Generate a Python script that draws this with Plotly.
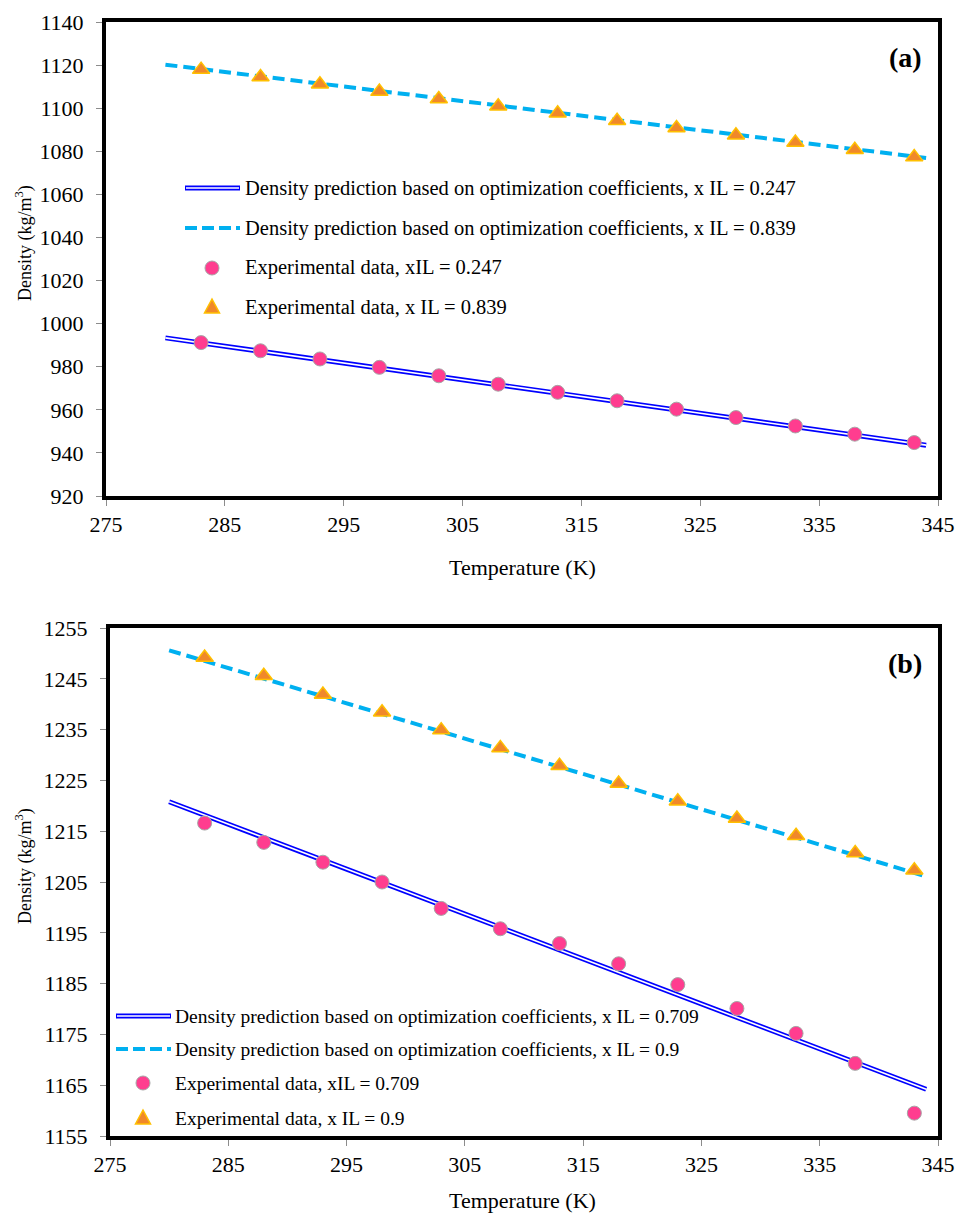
import plotly.graph_objects as go

# Experimental temperatures (K)
T_exp = [283, 288, 293, 298, 303, 308, 313, 318, 323, 328, 333, 338, 343]
# Temperature span of the fitted density lines (K)
T_fit = [280, 344]

# Panel (a): x IL = 0.247 and 0.839
rho_a_247 = [991.2, 987.4, 983.6, 979.7, 975.8, 971.9, 968.1, 964.2, 960.3, 956.4, 952.5, 948.7, 944.8]
rho_a_839 = [1117.9, 1114.5, 1111.1, 1107.7, 1104.3, 1100.9, 1097.6, 1094.2, 1090.8, 1087.4, 1084.1, 1080.7, 1077.3]
fit_a_247 = [993.4, 943.6]
fit_a_839 = [1120.2, 1076.9]

# Panel (b): x IL = 0.709 and 0.9
rho_b_709 = [1216.6, 1212.8, 1208.9, 1205.0, 1199.8, 1195.8, 1192.9, 1188.9, 1184.8, 1180.1, 1175.2, 1169.3, 1159.5]
rho_b_900 = [1249.2, 1245.6, 1241.9, 1238.4, 1234.9, 1231.4, 1227.9, 1224.4, 1220.9, 1217.5, 1214.1, 1210.7, 1207.3]
fit_b_709 = [1220.8, 1164.2]
fit_b_900 = [1250.6, 1206.1]

legend_a = [
    "Density prediction based on optimization coefficients, x IL = 0.247",
    "Density prediction based on optimization coefficients, x IL = 0.839",
    "Experimental data, xIL = 0.247",
    "Experimental data, x IL = 0.839",
]
legend_b = [
    "Density prediction based on optimization coefficients, x IL = 0.709",
    "Density prediction based on optimization coefficients, x IL = 0.9",
    "Experimental data, xIL = 0.709",
    "Experimental data, x IL = 0.9",
]

W, H = 955, 1215
FONT = "Liberation Serif"
BLUE = "#0000FF"
CYAN = "#00B0F0"
PINK = "#FF3D8F"
PINK_EDGE = "#A6A6A6"
ORANGE = "#F0882A"
ORANGE_EDGE = "#FFC000"

circle_marker = dict(symbol="circle", size=14, color=PINK, line=dict(color=PINK_EDGE, width=1))
tri_marker = dict(symbol="triangle-up", size=15, color=ORANGE, line=dict(color=ORANGE_EDGE, width=1.5))


def px_x(p):
    return p / W


def px_y(p):
    return 1 - p / H


fig = go.Figure()


def add_panel(xa, ya, fit_solid, fit_dash, pts_circle, pts_tri):
    fig.add_trace(go.Scatter(x=T_fit, y=fit_dash, mode="lines", xaxis=xa, yaxis=ya,
                             line=dict(color=CYAN, width=4, dash="12px,6px"), showlegend=False))
    fig.add_trace(go.Scatter(x=T_fit, y=fit_solid, mode="lines", xaxis=xa, yaxis=ya,
                             line=dict(color=BLUE, width=5), showlegend=False))
    fig.add_trace(go.Scatter(x=T_fit, y=fit_solid, mode="lines", xaxis=xa, yaxis=ya,
                             line=dict(color="white", width=1.6), showlegend=False))
    fig.add_trace(go.Scatter(x=T_exp, y=pts_tri, mode="markers", xaxis=xa, yaxis=ya,
                             marker=tri_marker, showlegend=False))
    fig.add_trace(go.Scatter(x=T_exp, y=pts_circle, mode="markers", xaxis=xa, yaxis=ya,
                             marker=circle_marker, showlegend=False))


add_panel("x", "y", fit_a_247, fit_a_839, rho_a_247, rho_a_839)
add_panel("x2", "y2", fit_b_709, fit_b_900, rho_b_709, rho_b_900)

tick_font = dict(family=FONT, size=22, color="black")
axis_common = dict(
    showgrid=False, zeroline=False, showline=True, linecolor="black", linewidth=4,
    mirror=True, ticks="outside", ticklen=6, tickwidth=1, tickcolor="#8C8C8C",
    tickfont=tick_font, automargin=False,
)

fig.update_layout(
    width=W, height=H,
    margin=dict(l=0, r=0, t=0, b=0, autoexpand=False),
    paper_bgcolor="white", plot_bgcolor="white",
    showlegend=False,
    font=dict(family=FONT, color="black"),
    xaxis=dict(domain=[px_x(106), px_x(938)], range=[275, 345], tick0=275, dtick=10,
               anchor="y", ticklabelstandoff=0, **axis_common),
    yaxis=dict(domain=[px_y(496), px_y(22)], range=[920, 1140], tick0=920, dtick=20,
               anchor="x", ticklabelstandoff=8, **axis_common),
    xaxis2=dict(domain=[px_x(110), px_x(938)], range=[275, 345], tick0=275, dtick=10,
                anchor="y2", ticklabelstandoff=0, **axis_common),
    yaxis2=dict(domain=[px_y(1136), px_y(628)], range=[1155, 1255], tick0=1155, dtick=10,
                anchor="x2", ticklabelstandoff=8, **axis_common),
)

annotations = []
shapes = []


def text_at(x, y, text, size, xanchor="left", bold=False, angle=0):
    annotations.append(dict(
        xref="paper", yref="paper", x=px_x(x), y=px_y(y), text=("<b>%s</b>" % text) if bold else text,
        showarrow=False, xanchor=xanchor, yanchor="middle", textangle=angle,
        font=dict(family=FONT, size=size, color="black"),
    ))


def legend_block(x_line0, x_line1, x_mark, x_text, rows, labels, size):
    # double blue line swatch
    y0 = px_y(rows[0])
    shapes.append(dict(type="line", xref="paper", yref="paper", x0=px_x(x_line0), x1=px_x(x_line1),
                       y0=y0, y1=y0, line=dict(color=BLUE, width=5)))
    shapes.append(dict(type="line", xref="paper", yref="paper", x0=px_x(x_line0 + 1), x1=px_x(x_line1 - 1),
                       y0=y0, y1=y0, line=dict(color="white", width=1.6)))
    # dashed cyan swatch
    y1 = px_y(rows[1])
    shapes.append(dict(type="line", xref="paper", yref="paper", x0=px_x(x_line0), x1=px_x(x_line1),
                       y0=y1, y1=y1, line=dict(color=CYAN, width=4, dash="12px,5px")))
    # circle swatch
    r = 7
    shapes.append(dict(type="circle", xref="paper", yref="paper",
                       x0=px_x(x_mark - r), x1=px_x(x_mark + r),
                       y0=px_y(rows[2] + r), y1=px_y(rows[2] - r),
                       fillcolor=PINK, line=dict(color=PINK_EDGE, width=1)))
    # triangle swatch
    cy = rows[3]
    path = "M %f %f L %f %f L %f %f Z" % (
        px_x(x_mark - 7.5), px_y(cy + 6), px_x(x_mark + 7.5), px_y(cy + 6), px_x(x_mark), px_y(cy - 8))
    shapes.append(dict(type="path", xref="paper", yref="paper", path=path,
                       fillcolor=ORANGE, line=dict(color=ORANGE_EDGE, width=1.5)))
    for yy, lab in zip(rows, labels):
        text_at(x_text, yy, lab, size)


legend_block(185, 240, 212, 243, [188, 228, 268, 307], legend_a, 20.5)
legend_block(116, 171, 143, 173, [1016, 1049, 1083, 1118], legend_b, 19.5)

# panel tags
text_at(905, 57, "(a)", 28, xanchor="center", bold=True)
text_at(905, 663, "(b)", 28, xanchor="center", bold=True)

# axis titles
text_at(522, 567, "Temperature (K)", 22, xanchor="center")
text_at(522, 1200, "Temperature (K)", 22, xanchor="center")
text_at(24, 243, "Density (kg/m<sup>3</sup>)", 18, xanchor="center", angle=-90)
text_at(24, 866, "Density (kg/m<sup>3</sup>)", 18, xanchor="center", angle=-90)

fig.update_layout(annotations=annotations, shapes=shapes)

fig.write_html("out.html")
